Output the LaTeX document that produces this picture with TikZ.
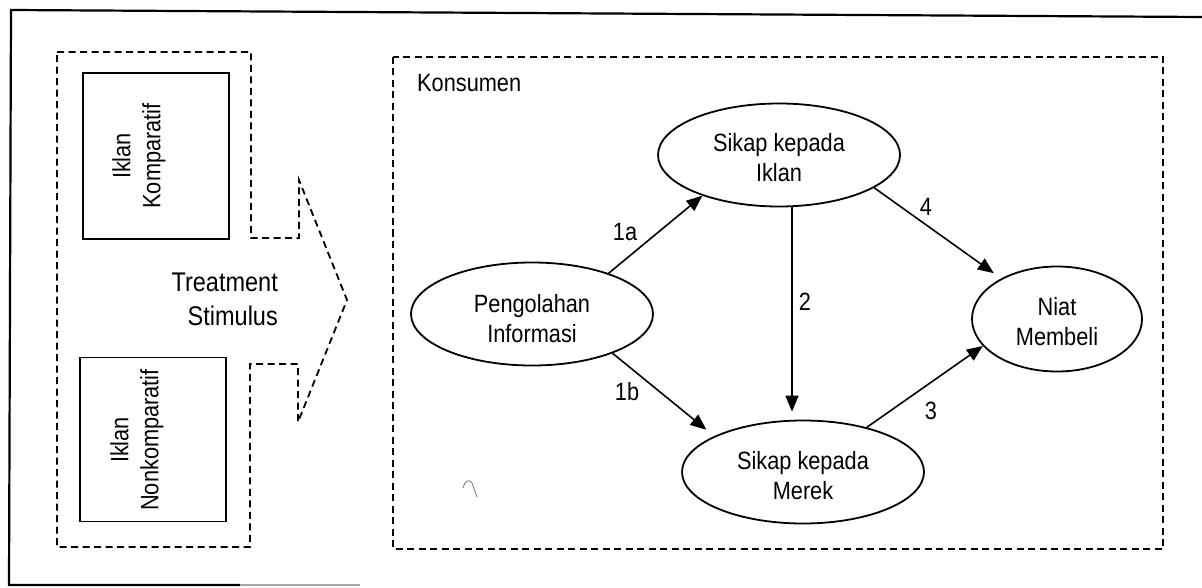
\documentclass[tikz,border=0pt]{standalone}
\usepackage{fontspec}
\setmainfont{Liberation Sans}[FakeStretch=0.87]
\usetikzlibrary{shapes.geometric,arrows.meta}
\begin{document}
\begin{tikzpicture}[x=1pt,y=-1pt,
  txt/.style={font=\fontsize{25}{30}\selectfont, inner sep=0pt, align=center},
  num/.style={font=\fontsize{25}{30}\selectfont, inner sep=0pt},
  bubble/.style={draw, ellipse, line width=1.8pt, minimum width=242pt,
                 minimum height=103pt, inner sep=0pt},
  card/.style={draw, line width=1.8pt, minimum width=146pt,
               minimum height=166pt, inner sep=0pt},
  zone/.style={draw, line width=1.8pt, dash pattern=on 7pt off 4.5pt},
  link/.style={line width=1.6pt, -{Triangle[length=16pt,width=13pt]}}
]
\useasboundingbox (0,0) rectangle (1202,588);

% outer frame (open on the right)
\draw[line width=2.2pt] (1202,17) -- (11,10) -- (9,585) -- (240,585);
\draw[line width=1.2pt, black!35] (240,585) -- (360,585);

% stimulus panel shaped as a dashed block arrow
\draw[zone] (57,52) -- (251,52) -- (251,238) -- (299,238) -- (299,180)
  -- (347,300) -- (298,422) -- (298,364) -- (250,364) -- (250,547)
  -- (57,547) -- cycle;

% the two advertisement types
\node[card] (kom) at (156,156) {};
\node[card, minimum height=164pt] (nonkom) at (153,439.5) {};
\node[txt, rotate=90] (komtxt) at (139,156) {Iklan\\Komparatif};
\node[txt, rotate=90] (nonkomtxt) at (137,440) {Iklan\\Nonkomparatif};

\node[font=\fontsize{27}{34}\selectfont, align=right, inner sep=0pt,
      anchor=east] (stim) at (278,299) {Treatment\\Stimulus};

% consumer panel
\draw[zone] (393,57) rectangle (1163,549);
\node[num, anchor=base west] (konsumen) at (417,92) {Konsumen};

% constructs
\node[bubble] (pi) at (532,314) {};
\node[bubble] (si) at (779,155) {};
\node[bubble] (me) at (803,472) {};
\node[bubble, minimum width=170pt, minimum height=105pt] (ni) at (1057,319) {};

\node[txt] (pitxt) at (532,319) {Pengolahan\\Informasi};
\node[txt] (sitxt) at (779,158) {Sikap kepada\\Iklan};
\node[txt] (metxt) at (803,476) {Sikap kepada\\Merek};
\node[txt] (nitxt) at (1057,322) {Niat\\Membeli};

% paths
\draw[link] (pi.28) -- (si.208);
\draw[link, shorten >=10pt] (pi.-26) -- (me.158);
\draw[link] ([xshift=13pt]si.south) -- ([xshift=-11pt,yshift=8pt]me.north);
\draw[link, shorten >=9pt] (si.-19) -- (ni.144);
\draw[link] (me.35) -- (ni.200);

\node[num] (l1a) at (625,232) {1a};
\node[num] (l1b) at (627,392) {1b};
\node[num] (l2) at (805,302) {2};
\node[num] (l4) at (926,207) {4};
\node[num] (l3) at (931,411) {3};

% small pen stroke
\draw[line width=0.7pt, black!60] (463,488) .. controls (465,480) and (469,479) .. (472,483) -- (477,497);
\end{tikzpicture}
\end{document}
